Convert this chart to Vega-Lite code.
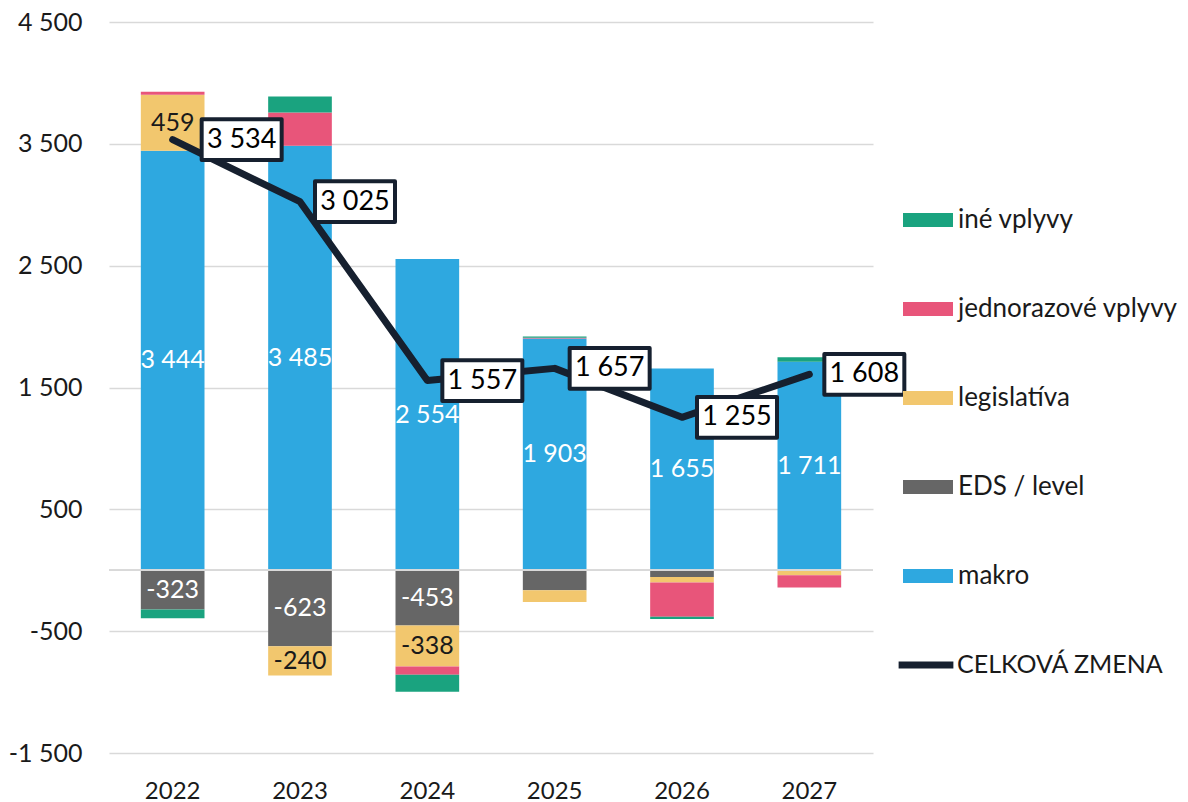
{
  "$schema": "https://vega.github.io/schema/vega-lite/v6.json",
  "width": 764,
  "height": 731,
  "autosize": "none",
  "padding": {"left": 109, "top": 22, "right": 315, "bottom": 49},
  "background": "white",
  "config": {
    "view": {"stroke": null},
    "font": "Lato",
    "axis": {"labelFont": "Lato", "labelColor": "#1a1a1a"}
  },
  "datasets": {
    "bars": [
      {"year": "2022", "cat": "makro", "ord": 1, "value": 3444},
      {"year": "2022", "cat": "EDS / level", "ord": 2, "value": -323},
      {"year": "2022", "cat": "legislatíva", "ord": 3, "value": 459},
      {"year": "2022", "cat": "jednorazové vplyvy", "ord": 4, "value": 25},
      {"year": "2022", "cat": "iné vplyvy", "ord": 5, "value": -71},
      {"year": "2023", "cat": "makro", "ord": 1, "value": 3485},
      {"year": "2023", "cat": "EDS / level", "ord": 2, "value": -623},
      {"year": "2023", "cat": "legislatíva", "ord": 3, "value": -240},
      {"year": "2023", "cat": "jednorazové vplyvy", "ord": 4, "value": 272},
      {"year": "2023", "cat": "iné vplyvy", "ord": 5, "value": 131},
      {"year": "2024", "cat": "makro", "ord": 1, "value": 2554},
      {"year": "2024", "cat": "EDS / level", "ord": 2, "value": -453},
      {"year": "2024", "cat": "legislatíva", "ord": 3, "value": -338},
      {"year": "2024", "cat": "jednorazové vplyvy", "ord": 4, "value": -66},
      {"year": "2024", "cat": "iné vplyvy", "ord": 5, "value": -140},
      {"year": "2025", "cat": "makro", "ord": 1, "value": 1903},
      {"year": "2025", "cat": "EDS / level", "ord": 2, "value": -165},
      {"year": "2025", "cat": "legislatíva", "ord": 3, "value": -96},
      {"year": "2025", "cat": "jednorazové vplyvy", "ord": 4, "value": 5},
      {"year": "2025", "cat": "iné vplyvy", "ord": 5, "value": 10},
      {"year": "2026", "cat": "makro", "ord": 1, "value": 1655},
      {"year": "2026", "cat": "EDS / level", "ord": 2, "value": -55},
      {"year": "2026", "cat": "legislatíva", "ord": 3, "value": -46},
      {"year": "2026", "cat": "jednorazové vplyvy", "ord": 4, "value": -280},
      {"year": "2026", "cat": "iné vplyvy", "ord": 5, "value": -19},
      {"year": "2027", "cat": "makro", "ord": 1, "value": 1711},
      {"year": "2027", "cat": "EDS / level", "ord": 2, "value": 0},
      {"year": "2027", "cat": "legislatíva", "ord": 3, "value": -41},
      {"year": "2027", "cat": "jednorazové vplyvy", "ord": 4, "value": -100},
      {"year": "2027", "cat": "iné vplyvy", "ord": 5, "value": 38}
    ],
    "totals": [
      {"year": "2022", "total": 3534},
      {"year": "2023", "total": 3025},
      {"year": "2024", "total": 1557},
      {"year": "2025", "total": 1657},
      {"year": "2026", "total": 1255},
      {"year": "2027", "total": 1608}
    ]
  },
  "encoding": {
    "x": {
      "field": "year",
      "type": "ordinal",
      "scale": {"paddingInner": 0.5, "paddingOuter": 0.25},
      "axis": {
        "title": null,
        "domain": false,
        "ticks": false,
        "tickSize": 0,
        "labelAngle": 0,
        "labelFontSize": 24,
        "labelPadding": 26,
        "labelColor": "#1a1a1a"
      }
    }
  },
  "layer": [
    {
      "data": {"name": "bars"},
      "transform": [
        {"stack": "value", "groupby": ["year"], "sort": [{"field": "ord", "order": "ascending"}], "as": ["v0", "v1"]}
      ],
      "mark": {"type": "bar"},
      "encoding": {
        "y": {
          "field": "v0",
          "type": "quantitative",
          "scale": {"domain": [-1500, 4500], "nice": false, "zero": false},
          "axis": {
            "title": null,
            "values": [-1500, -500, 500, 1500, 2500, 3500, 4500],
            "labelExpr": "replace(replace(format(datum.value, ','), ',', ' '), '−', '-')",
            "domain": false,
            "ticks": false,
            "tickSize": 0,
            "labelPadding": 27,
            "labelFontSize": 25,
            "gridColor": "#d9d9d9",
            "gridWidth": 1.5
          }
        },
        "y2": {"field": "v1"},
        "color": {
          "field": "cat",
          "type": "nominal",
          "scale": {
            "domain": ["iné vplyvy", "jednorazové vplyvy", "legislatíva", "EDS / level", "makro"],
            "range": ["#1aa37f", "#e8557a", "#f2c76e", "#666666", "#2ea8e0"]
          },
          "legend": {
            "title": null,
            "orient": "none",
            "legendX": 794,
            "legendY": 173,
            "padding": 0,
            "symbolType": "M-1,-0.28H1V0.28H-1Z",
            "symbolSize": 2500,
            "symbolStrokeWidth": 0,
            "labelFontSize": 26,
            "labelColor": "#1a1a1a",
            "labelOffset": 5,
            "rowPadding": 51,
            "labelLimit": 400
          }
        }
      }
    },
    {
      "data": {"name": "totals"},
      "mark": {"type": "rule", "color": "#d9d9d9", "strokeWidth": 1.5},
      "encoding": {"y": {"datum": 0, "type": "quantitative"}, "x": null}
    },
    {
      "data": {"name": "bars"},
      "transform": [
        {"stack": "value", "groupby": ["year"], "sort": [{"field": "ord", "order": "ascending"}], "as": ["v0", "v1"]},
        {"filter": "(datum.cat == 'makro' || datum.cat == 'EDS / level' || datum.cat == 'legislatíva') && abs(datum.value) > 200"},
        {"calculate": "(datum.v0 + datum.v1) / 2", "as": "mid"},
        {"calculate": "replace(replace(format(datum.value, ','), ',', ' '), '−', '-')", "as": "lab"}
      ],
      "mark": {"type": "text", "fontSize": 25, "baseline": "middle", "align": "center"},
      "encoding": {
        "y": {"field": "mid", "type": "quantitative"},
        "text": {"field": "lab"},
        "color": {"condition": {"test": "datum.cat == 'legislatíva'", "value": "#1a1a1a"}, "value": "white"}
      }
    },
    {
      "data": {"name": "totals"},
      "mark": {"type": "line", "color": "#16202f", "strokeWidth": 7, "strokeCap": "round", "strokeJoin": "round"},
      "encoding": {
        "y": {"field": "total", "type": "quantitative"},
        "stroke": {
          "datum": "CELKOVÁ ZMENA",
          "type": "nominal",
          "scale": {"range": ["#16202f"]},
          "legend": {
            "title": null,
            "orient": "none",
            "legendX": 786,
            "legendY": 612,
            "padding": 0,
            "symbolType": "stroke",
            "symbolSize": 3000,
            "symbolStrokeWidth": 7,
            "labelFontSize": 25,
            "labelColor": "#1a1a1a",
            "labelOffset": 0,
            "labelLimit": 400
          }
        }
      }
    },
    {
      "data": {"name": "totals"},
      "mark": {
        "type": "point",
        "shape": "M0,-0.51H2V0.51H0Z",
        "size": 6400,
        "filled": true,
        "fill": "white",
        "fillOpacity": 1,
        "stroke": "#16202f",
        "strokeWidth": 4,
        "strokeJoin": "round",
        "opacity": 1,
        "xOffset": {"expr": "datum.year == '2022' ? 29 : 15"}
      },
      "encoding": {"y": {"field": "total", "type": "quantitative"}}
    },
    {
      "data": {"name": "totals"},
      "transform": [{"calculate": "replace(format(datum.total, ','), ',', ' ')", "as": "lab"}],
      "mark": {
        "type": "text",
        "fontSize": 27,
        "color": "black",
        "align": "center",
        "baseline": "middle",
        "xOffset": {"expr": "datum.year == '2022' ? 69 : 55"}
      },
      "encoding": {"y": {"field": "total", "type": "quantitative"}, "text": {"field": "lab"}}
    }
  ]
}
